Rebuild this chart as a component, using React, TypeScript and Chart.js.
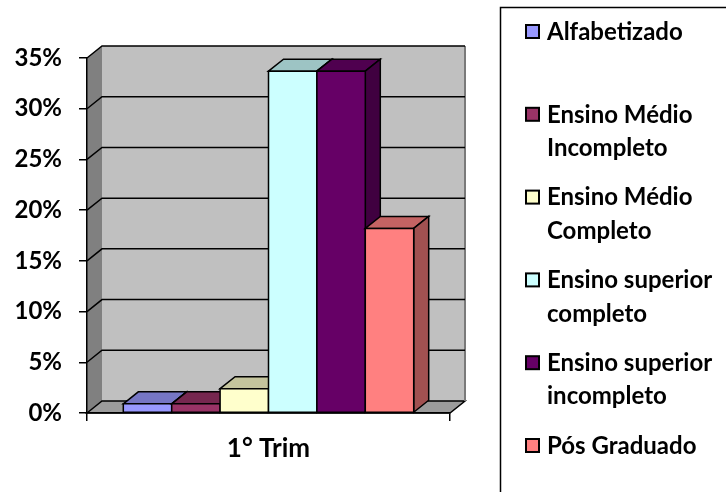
import React, { useEffect, useRef } from "react";
import { Chart, registerables } from "chart.js";

Chart.register(...registerables);

const categories = ["1° Trim"];
const seriesLabels: string[][] = [
  ["Alfabetizado"],
  ["Ensino Médio", "Incompleto"],
  ["Ensino Médio", "Completo"],
  ["Ensino superior", "completo"],
  ["Ensino superior", "incompleto"],
  ["Pós Graduado"],
];
const seriesValues: number[][] = [[0.9], [0.9], [2.4], [33.7], [33.7], [18.2]];
const seriesColors = ["#9999FF", "#993366", "#FFFFCC", "#CCFFFF", "#660066", "#FF8080"];
const yTicks = [0, 5, 10, 15, 20, 25, 30, 35];

const DX = 15;
const DY = -12;

function shade(hex: string, f: number) {
  const n = parseInt(hex.slice(1), 16);
  const r = Math.round(((n >> 16) & 255) * f);
  const g = Math.round(((n >> 8) & 255) * f);
  const b = Math.round((n & 255) * f);
  return `rgb(${r},${g},${b})`;
}

function poly(ctx: CanvasRenderingContext2D, pts: number[][], fill: string | null, stroke: string | null, lw = 1.5) {
  ctx.beginPath();
  ctx.moveTo(pts[0][0], pts[0][1]);
  for (let i = 1; i < pts.length; i++) ctx.lineTo(pts[i][0], pts[i][1]);
  ctx.closePath();
  if (fill) {
    ctx.fillStyle = fill;
    ctx.fill();
  }
  if (stroke) {
    ctx.strokeStyle = stroke;
    ctx.lineWidth = lw;
    ctx.lineJoin = "miter";
    ctx.stroke();
  }
}

const wallsPlugin = {
  id: "walls3d",
  beforeDraw(chart: any) {
    const ctx: CanvasRenderingContext2D = chart.ctx;
    const { left: L, right: R, top: T, bottom: B } = chart.chartArea;
    const yScale = chart.scales.y;
    ctx.save();
    poly(ctx, [[L + DX, T + DY], [R + DX, T + DY], [R + DX, B + DY], [L + DX, B + DY]], "#c0c0c0", null);
    poly(ctx, [[L, T], [L + DX, T + DY], [L + DX, B + DY], [L, B]], "#808080", null);
    poly(ctx, [[L, B], [L + DX, B + DY], [R + DX, B + DY], [R, B]], "#9c9c9c", "#000", 1.5);
    ctx.strokeStyle = "#7a7a7a";
    ctx.lineWidth = 2;
    ctx.beginPath();
    ctx.moveTo(R + DX, T + DY);
    ctx.lineTo(R + DX, B + DY);
    ctx.stroke();
    ctx.strokeStyle = "#000";
    ctx.lineWidth = 1.5;
    for (const v of yTicks) {
      if (v === 0) continue;
      const y = yScale.getPixelForValue(v);
      ctx.beginPath();
      ctx.moveTo(L, y);
      ctx.lineTo(L + DX, y + DY);
      ctx.lineTo(R + DX, y + DY);
      ctx.stroke();
    }
    ctx.restore();
  },
  afterDatasetsDraw(chart: any) {
    const ctx: CanvasRenderingContext2D = chart.ctx;
    ctx.save();
    chart.data.datasets.forEach((ds: any, i: number) => {
      const meta = chart.getDatasetMeta(i);
      meta.data.forEach((el: any) => {
        const { x, y, base, width } = el.getProps(["x", "y", "base", "width"], true);
        const l = x - width / 2;
        const r = x + width / 2;
        const c = ds.backgroundColor as string;
        poly(ctx, [[l, y], [l + DX, y + DY], [r + DX, y + DY], [r, y]], shade(c, 0.77), "#000");
        poly(ctx, [[r, y], [r + DX, y + DY], [r + DX, base + DY], [r, base]], shade(c, 0.63), "#000");
        poly(ctx, [[l, y], [r, y], [r, base], [l, base]], c, "#000");
      });
    });
    ctx.restore();
  },
  afterDraw(chart: any) {
    const ctx: CanvasRenderingContext2D = chart.ctx;
    ctx.save();
    ctx.strokeStyle = "#000";
    ctx.lineWidth = 1.5;
    ctx.beginPath();
    ctx.moveTo(500.5, 492);
    ctx.lineTo(500.5, 7.5);
    ctx.lineTo(726, 7.5);
    ctx.stroke();
    const y0 = 32;
    const step = 82.8;
    const lh = 33.5;
    ctx.font = "bold 24px Lato";
    ctx.textBaseline = "middle";
    ctx.textAlign = "left";
    chart.data.datasets.forEach((ds: any, i: number) => {
      const y = y0 + i * step;
      ctx.fillStyle = ds.backgroundColor;
      ctx.fillRect(526, y - 7, 13, 13);
      ctx.strokeStyle = "#000";
      ctx.lineWidth = 2;
      ctx.strokeRect(526, y - 7, 13, 13);
      ctx.fillStyle = "#000";
      const lines: string[] = seriesLabels[i];
      lines.forEach((t, k) => ctx.fillText(t, 547, y + k * lh));
    });
    ctx.restore();
  },
};

export default function App() {
  const ref = useRef<HTMLCanvasElement>(null);
  useEffect(() => {
    document.body.style.margin = "0";
    const chart = new Chart(ref.current!, {
      type: "bar",
      data: {
        labels: categories,
        datasets: seriesLabels.map((lines, i) => ({
          label: lines.join(" "),
          data: seriesValues[i],
          backgroundColor: seriesColors[i],
          borderColor: "#000",
          borderWidth: 0,
          categoryPercentage: 0.8,
          barPercentage: 1.0,
        })),
      },
      options: {
        responsive: false,
        animation: false,
        devicePixelRatio: 1,
        layout: { padding: { left: 0, top: 58, right: 276, bottom: 0 } },
        plugins: { legend: { display: false }, tooltip: { enabled: false } },
        scales: {
          x: {
            afterFit: (s: any) => {
              s.height = 79;
            },
            grid: { display: true, drawOnChartArea: false, tickLength: 8, color: "#000", lineWidth: 1.5, offset: true },
            border: { display: true, color: "#000", width: 1.5 },
            ticks: { color: "#000", font: { family: "Lato", size: 26, weight: "bold" }, padding: 12 },
          },
          y: {
            min: 0,
            max: 35,
            afterFit: (s: any) => {
              s.width = 87;
            },
            afterBuildTicks: (s: any) => {
              s.ticks = yTicks.map((v) => ({ value: v }));
            },
            grid: { display: true, drawOnChartArea: false, tickLength: 8, color: "#000", lineWidth: 1.5 },
            border: { display: true, color: "#000", width: 1.5 },
            ticks: {
              color: "#000",
              padding: 17,
              font: { family: "Lato", size: 24, weight: "bold" },
              callback: (v: any) => `${v}%`,
            },
          },
        },
      },
      plugins: [wallsPlugin],
    } as any);
    return () => chart.destroy();
  }, []);
  return <canvas ref={ref} width={726} height={492} style={{ display: "block" }} />;
}
